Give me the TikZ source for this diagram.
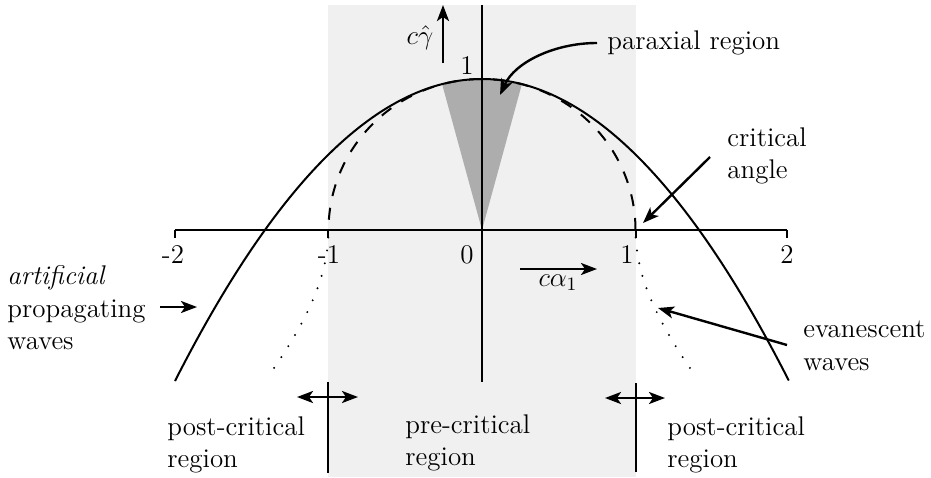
\RequirePackage{fix-cm}
\documentclass[tikz,border=0pt]{standalone}
\usetikzlibrary{arrows.meta}
\begin{document}
\begin{tikzpicture}[x=0.5pt,y=-0.5pt,
  lbl/.style={font=\fontsize{13.5}{16.2}\selectfont, inner sep=0pt, align=left},
  curve/.style={line width=1pt},
  axis/.style={line width=0.9pt},
  arr/.style={line width=1.2pt,-{Stealth[length=8pt,width=6pt,inset=2pt]}},
  darr/.style={line width=1.2pt,{Stealth[length=8pt,width=6pt,inset=2pt]}-{Stealth[length=8pt,width=6pt,inset=2pt]}},
  bar/.style={line width=1.4pt},
]
\useasboundingbox (0,0) rectangle (931,477);
% pre-critical band
\fill[black!6] (328,5) rectangle (636,477);
% paraxial wedge
\fill[black!32] (482,230) -- plot[domain=-0.26:0.26,samples=20] ({482+153.5*\x},{230-151*(1-\x*\x/2)}) -- cycle;
% axes
\draw[axis] (175,230) -- (787,230);
\foreach \tx in {175,328,636,787} \draw[axis] (\tx,230) -- (\tx,238);
\draw[axis] (482,5) -- (482,382);
% parabola
\draw[curve] plot[domain=-2:2,samples=120] ({482+153.5*\x},{230-151*(1-\x*\x/2)});
% circle (dashed)
\draw[curve,dash pattern=on 6pt off 6pt] plot[domain=0:180,samples=120] ({482+153.5*cos(\x)},{230-151*sin(\x)});
% evanescent (dotted)
\draw[line width=1.1pt,line cap=round,dash pattern=on 0pt off 6.5pt] plot[domain=0.05:0.95,samples=60] ({482+153.5*sqrt(1+\x*\x)},{230+151*\x});
\draw[line width=1.1pt,line cap=round,dash pattern=on 0pt off 6.5pt] plot[domain=0.05:0.95,samples=60] ({482-153.5*sqrt(1+\x*\x)},{230+151*\x});
% tick labels
\node[lbl] (tm2) at (173,255) {-2};
\node[lbl] (tm1) at (329,255) {-1};
\node[lbl] (t0) at (467,255) {0};
\node[lbl] (t1) at (627,255) {1};
\node[lbl] (t2) at (787,255) {2};
\node[lbl] (top1) at (467,66) {1};
% axis labels
\node[lbl] (cg) at (420,38) {$c\hat{\gamma}$};
\coordinate (cgA) at (443,63);
\coordinate (cgB) at (443,5);
\draw[arr] (cgA) -- (cgB);
\node[lbl] (ca) at (558,283) {$c\alpha_1$};
\coordinate (caA) at (520,269);
\coordinate (caB) at (597,269);
\draw[arr] (caA) -- (caB);
% paraxial region
\node[lbl,anchor=west] (par) at (607,43) {paraxial region};
\coordinate (parA) at (597,43);
\coordinate (parB) at (500,95);
\draw[arr] (parA) .. controls (555,43) and (515,62) .. (parB);
% critical angle
\node[lbl,anchor=west] (crit) at (727,156) {critical\\angle};
\coordinate (critA) at (710,157);
\coordinate (critB) at (643,223);
\draw[arr] (critA) -- (critB);
% artificial propagating waves
\node[lbl,anchor=west] (art) at (7,308) {\textit{artificial}\\propagating\\waves};
\coordinate (artA) at (160,307);
\coordinate (artB) at (197,307);
\draw[arr] (artA) -- (artB);
% evanescent waves
\node[lbl,anchor=west] (eva) at (803,346) {evanescent\\waves};
\coordinate (evaA) at (787,345);
\coordinate (evaB) at (658,308);
\draw[arr] (evaA) -- (evaB);
% region bars
\coordinate (lbarT) at (328,382);
\coordinate (lbarB) at (328,473);
\coordinate (rbarT) at (636,383);
\coordinate (rbarB) at (636,472);
\draw[bar] (lbarT) -- (lbarB);
\draw[bar] (rbarT) -- (rbarB);
\coordinate (ldA) at (297,397);
\coordinate (ldB) at (358,397);
\coordinate (rdA) at (605,398);
\coordinate (rdB) at (665,398);
\draw[darr] (ldA) -- (ldB);
\draw[darr] (rdA) -- (rdB);
% region labels
\node[lbl,anchor=west] (postL) at (167,445) {post-critical\\region};
\node[lbl,anchor=west] (pre) at (405,443) {pre-critical\\region};
\node[lbl,anchor=west] (postR) at (667,445) {post-critical\\region};
\end{tikzpicture}
\end{document}
